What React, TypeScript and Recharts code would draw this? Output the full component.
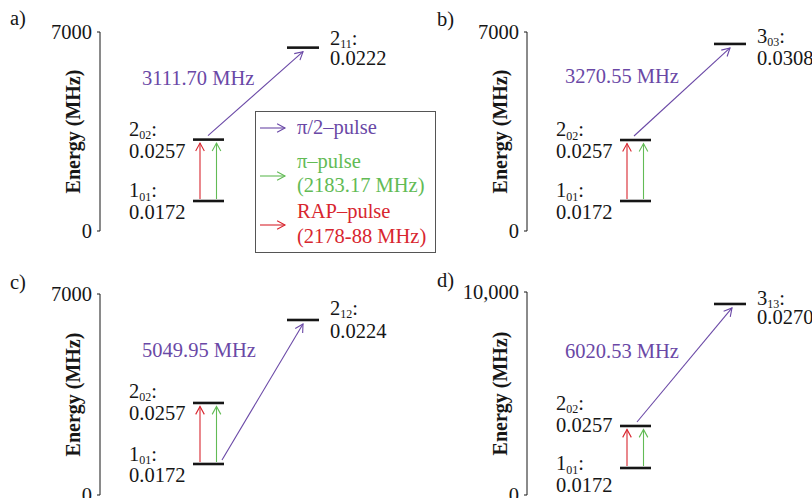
import React from 'react';
import { ComposedChart, XAxis, YAxis, ReferenceLine, Line } from 'recharts';

// ---------------- data ----------------
const panelLetters = ['a)', 'b)', 'c)', 'd)'];
const axisMaxima = [7000, 7000, 7000, 10000];
const axisTickLabels = [['0', '7000'], ['0', '7000'], ['0', '7000'], ['0', '10,000']];
const axisTitle = 'Energy (MHz)';

const lowerStateJ = ['1', '2'];
const lowerStateK = ['01', '02'];
const lowerIntensities = ['0.0172', '0.0257'];

const upperStateJ = ['2', '3', '2', '3'];
const upperStateK = ['11', '03', '12', '13'];
const upperIntensities = ['0.0222', '0.0308', '0.0224', '0.0270'];

const energy101 = [1055, 1055, 1080, 1330];
const energy202 = [3215, 3200, 3205, 3400];
const energyUpper = [6450, 6580, 6095, 9410];

const probeFrequencies = ['3111.70 MHz', '3270.55 MHz', '5049.95 MHz', '6020.53 MHz'];
const probeStartLevel = [1, 1, 0, 1]; // 0 = 1_01, 1 = 2_02

const legendLines = [['π/2–pulse'], ['π–pulse', '(2183.17 MHz)'], ['RAP–pulse', '(2178-88 MHz)']];

// ---------------- styling / layout ----------------
const FONT = "'Liberation Serif', 'Times New Roman', serif";
const FS = 20.5;
const PURPLE = '#6a48a6';
const GREEN = '#62bb55';
const RED = '#d8262f';
const INK = '#161616';

const CHART_W = 420;
const M_TOP = 32;
const M_BOTTOM = 29;
const M_LEFT = 40;
const Y_W = 60;

const panelPos = [
  { left: 0, top: 0 },
  { left: 427, top: 0 },
  { left: 0, top: 262 },
  { left: 427, top: 260 },
];
const plotHeights = [199, 199, 201, 203];
const lowerCol: [number, number] = [93, 124];
const upperCol: [number, number] = [187, 219];
const redX = 100;
const greenX = 116.5;
const probeStartX = [108, 107, 122, 110];
const probeEndX = [203, 203, 203, 205];
const freqLabelPos = [
  { x: 142, y: 85 },
  { x: 138, y: 83 },
  { x: 142, y: 95 },
  { x: 138, y: 98 },
];
const lowerLabelDy = [
  [[-4, 18], [-4, 18]],
  [[-4, 18], [-4, 18]],
  [[-3, 18], [-5, 17]],
  [[2, 24], [-16, 6]],
];
const upperLabelDy = [[-3, 17], [-1, 21], [-5, 18], [1, 20]];

function chevron(tx: number, ty: number, ux: number, uy: number, len = 9, a = 0.5) {
  const c = Math.cos(a);
  const s = Math.sin(a);
  const r1x = ux * c - uy * s;
  const r1y = ux * s + uy * c;
  const r2x = ux * c + uy * s;
  const r2y = -ux * s + uy * c;
  return `${tx - len * r1x},${ty - len * r1y} ${tx},${ty} ${tx - len * r2x},${ty - len * r2y}`;
}

const makeArrowShape = (color: string, startInset: number, endInset: number) => (props: any) => {
  const { x1, y1, x2, y2 } = props;
  if ([x1, y1, x2, y2].some((v) => typeof v !== 'number' || isNaN(v))) return <g />;
  const sy = y1 - startInset;
  const ey = y2 + endInset;
  const dx = x2 - x1;
  const dy = ey - sy;
  const L = Math.sqrt(dx * dx + dy * dy) || 1;
  const ux = dx / L;
  const uy = dy / L;
  return (
    <g>
      <line x1={x1} y1={sy} x2={x2} y2={ey} stroke={color} strokeWidth={1.1} />
      <polyline points={chevron(x2, ey, ux, uy)} fill="none" stroke={color} strokeWidth={1.1} />
    </g>
  );
};

const StateLabel = ({ x, j, k, anchorY1, anchorY2, intensity }: any) => (
  <g>
    <text x={x} y={anchorY1} fontFamily={FONT} fontSize={FS} fill={INK}>
      {j}
      <tspan fontSize={12} dy={3.5}>{k}</tspan>
      <tspan dy={-3.5} fontSize={FS}>:</tspan>
    </text>
    <text x={x} y={anchorY2} fontFamily={FONT} fontSize={FS} fill={INK}>
      {intensity}
    </text>
  </g>
);

const makeLevelShape = (side: 'left' | 'right', j: string, k: string, intensity: string, dys: number[]) => (props: any) => {
  const { x1, y1, x2, y2 } = props;
  if ([x1, y1, x2, y2].some((v) => typeof v !== 'number' || isNaN(v))) return <g />;
  const lx = side === 'left' ? Math.min(x1, x2) - 64 : Math.max(x1, x2) + 11;
  return (
    <g>
      <line x1={x1} y1={y1} x2={x2} y2={y2} stroke={INK} strokeWidth={2.6} />
      <StateLabel x={lx} j={j} k={k} intensity={intensity} anchorY1={y1 + dys[0]} anchorY2={y1 + dys[1]} />
    </g>
  );
};

const Panel = ({ i }: { i: number }) => {
  const max = axisMaxima[i];
  const ticks = [0, max];
  const lowerE = [energy101[i], energy202[i]];
  const startE = lowerE[probeStartLevel[i]];
  const probeShape = makeArrowShape(PURPLE, 4, 4);
  const fl = freqLabelPos[i];
  const chartH = M_TOP + plotHeights[i] + M_BOTTOM;
  const levelData = [
    { x: lowerCol[0], e: energy101[i] },
    { x: lowerCol[1], e: energy202[i] },
    { x: upperCol[1], e: energyUpper[i] },
  ];
  return (
    <div style={{ position: 'absolute', left: panelPos[i].left, top: panelPos[i].top }}>
      <ComposedChart
        width={CHART_W}
        height={chartH}
        margin={{ top: M_TOP, right: 0, bottom: M_BOTTOM, left: M_LEFT }}
        data={levelData}
      >
        <XAxis type="number" dataKey="x" domain={[0, 320]} allowDataOverflow hide />
        <YAxis
          type="number"
          dataKey="e"
          domain={[0, max]}
          allowDataOverflow
          ticks={ticks}
          interval={0}
          width={Y_W}
          tickSize={3}
          tickMargin={5}
          axisLine={{ stroke: INK, strokeWidth: 1 }}
          tickLine={{ stroke: INK, strokeWidth: 1 }}
          tick={{ fontSize: FS, fill: INK, fontFamily: FONT }}
          tickFormatter={(v: number) => axisTickLabels[i][ticks.indexOf(v)]}
          label={(p: any) => {
            const vb = p.viewBox || { x: M_LEFT, y: M_TOP, width: Y_W, height: plotHeights[i] };
            const cx = vb.x + vb.width - 20;
            const cy = vb.y + vb.height / 2;
            return (
              <text
                x={cx}
                y={cy}
                transform={`rotate(-90 ${cx} ${cy})`}
                textAnchor="middle"
                fontFamily={FONT}
                fontSize={20}
                fontWeight="bold"
                fill={INK}
              >
                {axisTitle}
              </text>
            );
          }}
        />
        <Line dataKey="e" stroke="none" dot={false} activeDot={false} isAnimationActive={false} legendType="none" />
        {lowerE.map((e, li) => (
          <ReferenceLine
            key={`lvl${li}`}
            segment={[{ x: lowerCol[0], y: e }, { x: lowerCol[1], y: e }]}
            shape={makeLevelShape('left', lowerStateJ[li], lowerStateK[li], lowerIntensities[li], lowerLabelDy[i][li])}
          />
        ))}
        <ReferenceLine
          segment={[{ x: upperCol[0], y: energyUpper[i] }, { x: upperCol[1], y: energyUpper[i] }]}
          shape={makeLevelShape('right', upperStateJ[i], upperStateK[i], upperIntensities[i], upperLabelDy[i])}
        />
        <ReferenceLine
          segment={[{ x: redX, y: energy101[i] }, { x: redX, y: energy202[i] }]}
          shape={makeArrowShape(RED, 2, 3.5)}
        />
        <ReferenceLine
          segment={[{ x: greenX, y: energy101[i] }, { x: greenX, y: energy202[i] }]}
          shape={makeArrowShape(GREEN, 2, 3.5)}
        />
        <ReferenceLine
          segment={[{ x: probeStartX[i], y: startE }, { x: probeEndX[i], y: energyUpper[i] }]}
          shape={(p: any) => (
            <g>
              {probeShape(p)}
              <text x={fl.x} y={fl.y} fontFamily={FONT} fontSize={FS} fill={PURPLE}>
                {probeFrequencies[i]}
              </text>
            </g>
          )}
        />
      </ComposedChart>
    </div>
  );
};

const letterPos = [
  { x: 10, y: 25 },
  { x: 437, y: 26 },
  { x: 10, y: 289 },
  { x: 437, y: 287 },
];

const legendColors = [PURPLE, GREEN, RED];
const legendArrowY = [128, 176, 225];
const legendTextY = [[134], [168, 192], [218, 243]];

const Overlay = () => (
  <svg width={812} height={498} style={{ position: 'absolute', left: 0, top: 0, pointerEvents: 'none' }}>
    {panelLetters.map((t, i) => (
      <text key={t} x={letterPos[i].x} y={letterPos[i].y} fontFamily={FONT} fontSize={FS} fill={INK}>
        {t}
      </text>
    ))}
    <rect x={255.5} y={111.5} width={180} height={141} fill="#fff" stroke="#555" strokeWidth={1} />
    {legendLines.map((lines, k) => (
      <g key={k}>
        <line x1={260} y1={legendArrowY[k]} x2={285} y2={legendArrowY[k]} stroke={legendColors[k]} strokeWidth={1.1} />
        <polyline points={chevron(285, legendArrowY[k], 1, 0)} fill="none" stroke={legendColors[k]} strokeWidth={1.1} />
        {lines.map((s, m) => (
          <text key={m} x={297} y={legendTextY[k][m]} fontFamily={FONT} fontSize={FS} fill={legendColors[k]}>
            {s}
          </text>
        ))}
      </g>
    ))}
  </svg>
);

export default function App() {
  return (
    <div style={{ position: 'absolute', left: 0, top: 0, width: 812, height: 498, overflow: 'hidden', background: '#fff' }}>
      {[0, 1, 2, 3].map((i) => (
        <Panel key={i} i={i} />
      ))}
      <Overlay />
    </div>
  );
}
